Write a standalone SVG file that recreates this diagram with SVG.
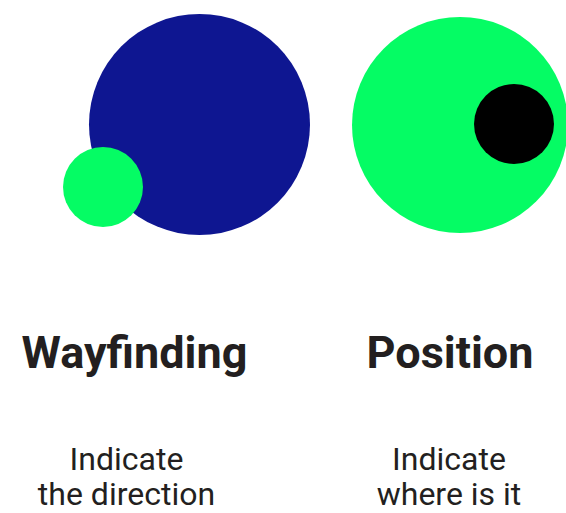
<svg xmlns="http://www.w3.org/2000/svg" width="566" height="513" viewBox="0 0 566 513">
<style>
.t{font-family:Roboto,"Liberation Sans",sans-serif;font-weight:700;font-size:45px;fill:#231f20;text-anchor:middle}
.s{font-family:Roboto,"Liberation Sans",sans-serif;font-weight:400;font-size:32px;fill:#231f20;text-anchor:middle}
.g{fill:#05fc64}
</style>
<rect width="566" height="513" fill="#fff"/>
<g id="wayfinding">
<circle cx="199.5" cy="124.5" r="110.5" fill="#0e1691"/>
<circle class="g" cx="103" cy="187" r="40"/>
<text class="t" x="134.5" y="368">Wayfinding</text>
<text class="s" x="126.5" y="470">Indicate</text>
<text class="s" x="126.5" y="505">the direction</text>
</g>
<g id="position">
<circle class="g" cx="460" cy="125" r="108"/>
<circle cx="514" cy="124" r="40" fill="#000"/>
<text class="t" x="450" y="368">Position</text>
<text class="s" x="449" y="470">Indicate</text>
<text class="s" x="449" y="505">where is it</text>
</g>
<g id="connectors"/>
</svg>
